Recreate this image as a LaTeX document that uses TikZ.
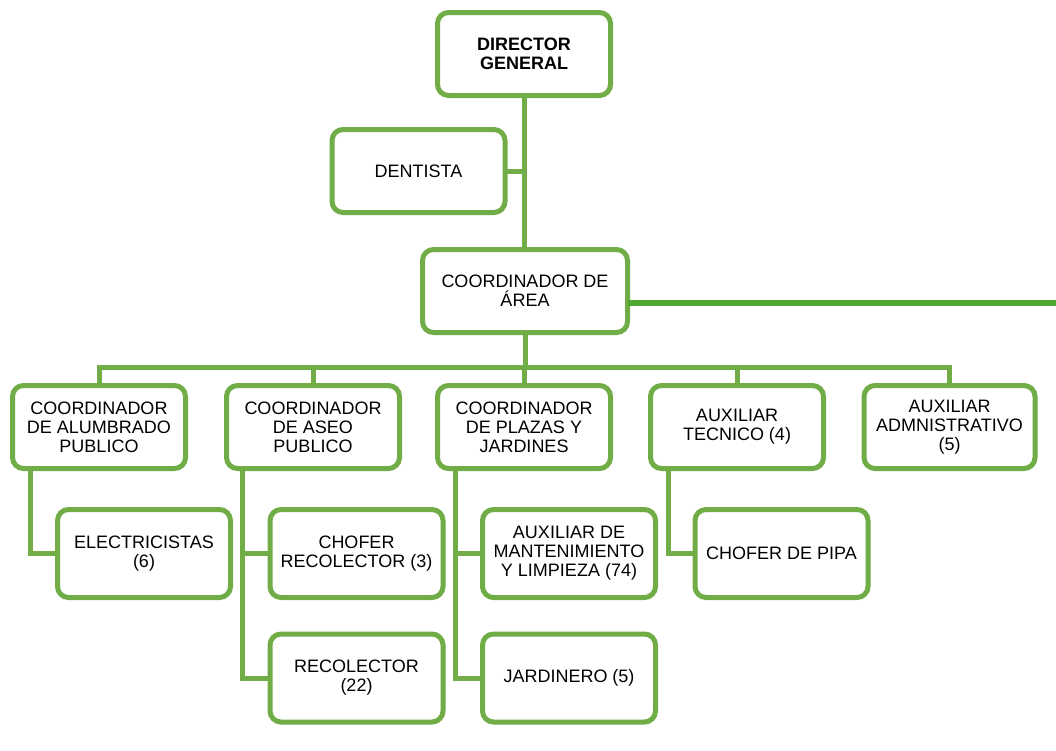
\documentclass[tikz,border=0pt]{standalone}
\usepackage{fontspec}
\setmainfont{Liberation Sans}
\definecolor{boxgreen}{HTML}{70AD47}
\definecolor{linegreen}{HTML}{4EA72E}
\begin{document}
\begin{tikzpicture}[x=1pt,y=-1pt,
  box/.style={draw=boxgreen,line width=5pt,fill=white,rounded corners=11pt,
    minimum width=173pt,minimum height=83pt,inner sep=0pt,outer sep=0pt,
    align=center,font=\fontsize{18}{19}\selectfont},
  low/.style={box,minimum height=88pt},
  conn/.style={draw=boxgreen,line width=5pt},
  side/.style={draw=linegreen,line width=6pt}]
\useasboundingbox (0,0) rectangle (1056,750);
% connectors first (behind boxes)
\coordinate (edge) at (1056,303);
\coordinate (busy) at (0,367);
\coordinate (alx) at (30,0);
\coordinate (asx) at (242,0);
\coordinate (plx) at (455,0);
\coordinate (atx) at (668,0);
% nodes
\node[box,font=\fontsize{18}{19}\selectfont\bfseries] (dir) at (524,54) {DIRECTOR\\GENERAL};
\node[box] (dent) at (418.5,171) {DENTISTA};
\node[box,minimum width=205pt] (area) at (525,291) {COORDINADOR DE\\ÁREA};
\node[box] (alum) at (99,427) {COORDINADOR\\DE ALUMBRADO\\PUBLICO};
\node[box] (aseo) at (313,427) {COORDINADOR\\DE ASEO\\PUBLICO};
\node[box] (plaz) at (524,427) {COORDINADOR\\DE PLAZAS Y\\JARDINES};
\node[box] (atec) at (737,427) {AUXILIAR\\TECNICO (4)};
\node[box,minimum width=171pt] (aadm) at (949.5,427) {AUXILIAR\\ADMNISTRATIVO\\(5)};
\node[low] (elec) at (144,553.5) {ELECTRICISTAS\\(6)};
\node[low] (chof) at (356.5,553.5) {CHOFER\\RECOLECTOR (3)};
\node[low] (recol) at (356.5,678) {RECOLECTOR\\(22)};
\node[low] (mant) at (569,553.5) {AUXILIAR DE\\MANTENIMIENTO\\Y LIMPIEZA (74)};
\node[low] (jard) at (569,678) {JARDINERO (5)};
\node[low] (pipa) at (781.5,553.5) {CHOFER DE PIPA};
% connectors
\begin{scope}[on background layer/.try]
\end{scope}
\path[conn] (dir.south) -- (dir.south |- area.north);
\path[conn] (dent.east) -- (dir.south |- dent.east);
\path[side] (area.east |- edge) -- (edge);
\path[conn] (area.south) -- (area.south |- busy);
\path[conn] (alum.north) -- (alum.north |- busy) -- (aadm.north |- busy) -- (aadm.north);
\path[conn] (aseo.north) -- (aseo.north |- busy);
\path[conn] (plaz.north) -- (plaz.north |- busy);
\path[conn] (atec.north) -- (atec.north |- busy);
\path[conn] (alx |- alum.south) -- (alx |- elec.west) -- (elec.west);
\path[conn] (asx |- aseo.south) -- (asx |- recol.west) -- (recol.west);
\path[conn] (asx |- chof.west) -- (chof.west);
\path[conn] (plx |- plaz.south) -- (plx |- jard.west) -- (jard.west);
\path[conn] (plx |- mant.west) -- (mant.west);
\path[conn] (atx |- atec.south) -- (atx |- pipa.west) -- (pipa.west);
\end{tikzpicture}
\end{document}
